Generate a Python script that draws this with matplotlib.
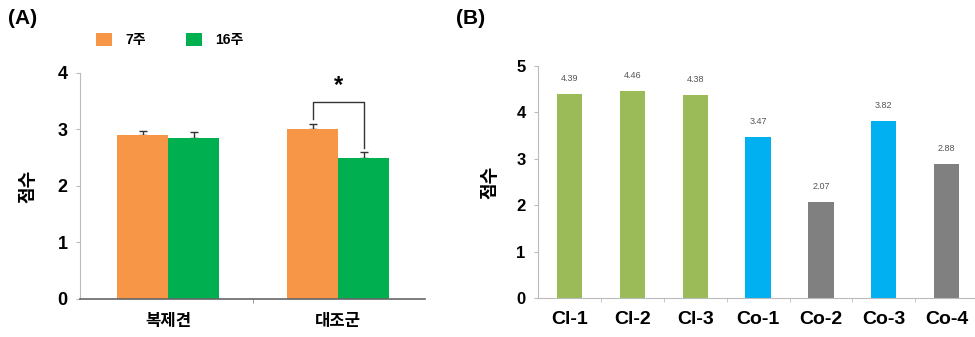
import numpy as np
import matplotlib.pyplot as plt

plt.rcParams['font.family'] = ['Liberation Sans', 'Noto Sans CJK KR']

# (A) 7주 vs 16주
groups = ['복제견', '대조군']
week7 = [2.90, 3.00]
week7_err = [0.07, 0.10]
week16 = [2.85, 2.50]
week16_err = [0.10, 0.10]

# (B) per-sample scores
samples = ['Cl-1', 'Cl-2', 'Cl-3', 'Co-1', 'Co-2', 'Co-3', 'Co-4']
scores = [4.39, 4.46, 4.38, 3.47, 2.07, 3.82, 2.88]
colors = ['#9BBB59', '#9BBB59', '#9BBB59', '#00B0F0', '#808080', '#00B0F0', '#808080']

fig = plt.figure(figsize=(9.75, 3.37), dpi=100, facecolor='w')

# ---- panel A ----
axA = fig.add_axes([0.082, 0.1128, 0.354, 0.6706])
x = np.arange(len(groups))
w = 0.3
axA.bar(x - w/2, week7, w, color='#F79646', label='7주', zorder=2)
axA.bar(x + w/2, week16, w, color='#00B050', label='16주', zorder=2)
# upper-only error bars (lower cap hidden behind the bar)
axA.errorbar(x - w/2, week7, yerr=[[0, 0], week7_err], fmt='none', ecolor='#333333',
             elinewidth=1, capsize=3, capthick=1, zorder=1.5)
axA.errorbar(x + w/2, week16, yerr=[[0, 0], week16_err], fmt='none', ecolor='#333333',
             elinewidth=1, capsize=3, capthick=1, zorder=1.5)
axA.set_xlim(-0.52, 1.51)
axA.set_ylim(0, 4)
axA.set_yticks([0, 1, 2, 3, 4])
axA.set_xticks(x)
axA.set_xticklabels(groups, fontsize=12, fontweight='bold')
axA.set_xticks([0.5], minor=True)
axA.tick_params(axis='x', which='major', length=0, pad=11)
axA.tick_params(axis='x', which='minor', length=3, color='#888888')
axA.tick_params(axis='y', length=3, color='#BBBBBB', labelsize=13, pad=6)
for t in axA.get_yticklabels():
    t.set_fontweight('bold')
for s in ['top', 'right']:
    axA.spines[s].set_visible(False)
axA.spines['left'].set_color('#BBBBBB')
axA.spines['bottom'].set_color('#666666')
axA.spines['bottom'].set_linewidth(1.2)
axA.set_ylabel('점수', fontsize=13, fontweight='bold', labelpad=14)

# significance bracket over 대조군
y_top = 3.49
xl, xr = 1 - w/2, 1 + w/2
axA.plot([xl, xl, xr, xr], [3.19, y_top, y_top, 2.67], color='#333333', lw=1, zorder=3)
axA.text(1.0, y_top + 0.28, '*', ha='center', va='center', fontsize=17, fontweight='bold')

fig.legend(*axA.get_legend_handles_labels(), loc='center left',
           bbox_to_anchor=(0.086, 1 - 40/337), ncol=2, frameon=False,
           handlelength=1.1, handleheight=1.1, handletextpad=1.0, columnspacing=2.9,
           prop={'weight': 'bold', 'size': 10})

fig.text(0.008, 0.945, '(A)', fontsize=15, fontweight='bold', va='center')

# ---- panel B ----
axB = fig.add_axes([0.5518, 0.1157, 0.4482, 0.6885])
xb = np.arange(len(samples))
axB.bar(xb, scores, 0.4, color=colors, zorder=2)
for xi, v in zip(xb, scores):
    axB.annotate(f'{v:.2f}', (xi, v), xytext=(0, 8), textcoords='offset points',
                 ha='center', va='bottom', fontsize=6.5, color='#555555')
axB.set_xlim(-0.5, 6.45)
axB.set_ylim(0, 5)
axB.set_yticks([0, 1, 2, 3, 4, 5])
axB.set_xticks(xb)
axB.set_xticklabels(samples, fontsize=14, fontweight='bold')
axB.set_xticks(np.arange(0.5, 6, 1), minor=True)
axB.tick_params(axis='x', which='major', length=0, pad=9)
axB.tick_params(axis='x', which='minor', length=3, color='#BBBBBB')
axB.tick_params(axis='y', length=3, color='#BBBBBB', labelsize=12, pad=6)
for t in axB.get_yticklabels():
    t.set_fontweight('bold')
for s in ['top', 'right']:
    axB.spines[s].set_visible(False)
axB.spines['left'].set_color('#BBBBBB')
axB.spines['bottom'].set_color('#BBBBBB')
axB.set_ylabel('점수', fontsize=13, fontweight='bold', labelpad=12)

fig.text(0.468, 0.945, '(B)', fontsize=15, fontweight='bold', va='center')

fig.savefig('out.png', dpi=100)
